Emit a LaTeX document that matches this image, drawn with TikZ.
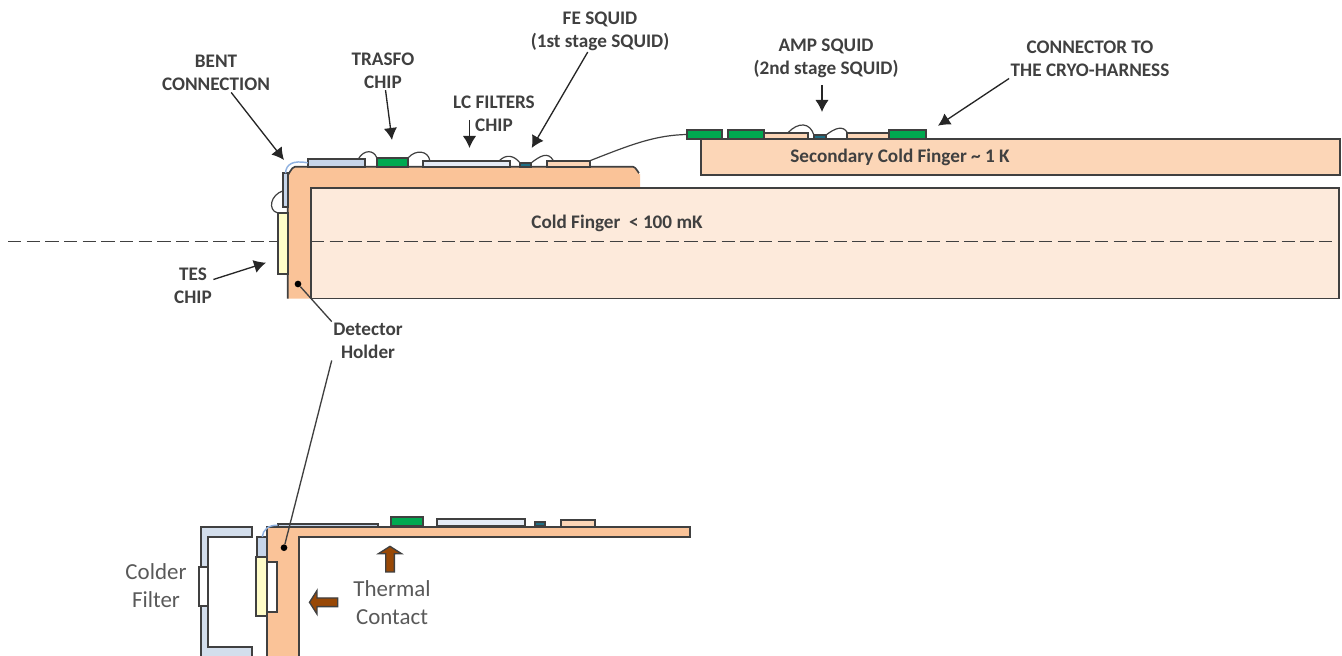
\documentclass[tikz,border=0pt]{standalone}
\usepackage{fontspec}
\setmainfont{Carlito}
\usepackage{xcolor}
\usepackage{tikz}
\usetikzlibrary{arrows.meta,shapes.arrows}
\definecolor{edge}{HTML}{404040}
\definecolor{holder}{HTML}{FAC398}
\definecolor{finger}{HTML}{FDEADB}
\definecolor{second}{HTML}{FCD6B7}
\definecolor{steel}{HTML}{C6D5EA}
\definecolor{pale}{HTML}{E4EBF6}
\definecolor{filterblue}{HTML}{D3DEEC}
\definecolor{chipgreen}{HTML}{00A950}
\definecolor{teal}{HTML}{1F6F85}
\definecolor{tes}{HTML}{FFFDC8}
\definecolor{brown}{HTML}{984806}
\definecolor{bentblue}{HTML}{8FB1E0}
\tikzset{
  chip/.style={draw=edge,line width=1.25pt,inner sep=0pt,outer sep=0pt},
  tag/.style={font=\fontsize{14.4}{17.3}\selectfont\bfseries,text=edge,align=center,inner sep=1pt},
  bigtag/.style={font=\fontsize{17.2}{21}\selectfont,text=black!65,align=center,inner sep=2pt},
  wire/.style={draw=edge,line width=0.9pt},
  bent/.style={draw=bentblue,line width=1.1pt},
  pointer/.style={->,draw=black!85,line width=1pt},
  flow/.style={single arrow,draw=edge,fill=brown,line width=1pt,inner sep=0pt,
    single arrow head extend=5.5pt,single arrow tip angle=115}
}
\newcommand{\chipnode}[6]{
  \node[chip,fill=#6,minimum width={(#4-#2)*0.75pt},minimum height={(#5-#3)*0.75pt}] (#1) at ({(#2+#4)/2},{(#3+#5)/2}) {};
}
\begin{document}
\begin{tikzpicture}[x=0.75pt,y=-0.75pt,>={Latex[length=9pt,width=10pt]}]
  \useasboundingbox (0,0) rectangle (1342,656);
  % upper assembly
  \fill[holder] (287.7,298.5) -- (287.7,174) to[out=-90,in=180] (295,166.7) -- (633,166.7) to[out=0,in=-90] (640,174) -- (640,188) -- (311,188) -- (311,298.5) -- cycle;
  \draw[draw=edge,line width=1.25pt] (287.7,298.5) -- (287.7,174) to[out=-90,in=180] (295,166.7) -- (633,166.7) to[out=0,in=-90] (639,172);
  \chipnode{coldfinger}{311}{188}{1339}{298.5}{finger}
  \chipnode{secondfinger}{700.7}{139}{1340}{174.7}{second}
  \chipnode{sidechip}{283.3}{173.3}{287.7}{207.3}{steel}
  \chipnode{teschip}{277.7}{212.7}{287.7}{274}{tes}
  \chipnode{bentchip}{307.7}{159}{365}{166.7}{steel}
  \chipnode{trasfo}{376.7}{157.7}{408.3}{166.7}{chipgreen}
  \chipnode{lcchip}{423}{160.7}{510}{166.7}{pale}
  \chipnode{fesquid}{520.3}{163.3}{530.7}{166.7}{teal}
  \chipnode{feboard}{546.7}{160.7}{590}{166.7}{second}
  \chipnode{padone}{687.3}{130}{722.3}{139}{chipgreen}
  \chipnode{padtwo}{728.3}{130}{764.3}{139}{chipgreen}
  \chipnode{ampleft}{764.3}{132.7}{808}{139}{second}
  \chipnode{ampsquid}{814}{135.3}{825.7}{139}{teal}
  \chipnode{ampright}{846.7}{132.7}{889.3}{139}{second}
  \chipnode{harness}{889.3}{130}{926}{139}{chipgreen}
  % bonding wires
  \draw[bent] (sidechip.north) .. controls (286,164) and (293,160) .. (bentchip.west);
  \draw[wire] (sidechip.south west |- 0,190.7) .. controls (270,195) and (268,210) .. ([xshift=-0.5pt]teschip.north west);
  \draw[wire] ([xshift=-5pt]bentchip.north east) .. controls (364,149) and (374,150) .. (trasfo.north west);
  \draw[wire] (trasfo.north east) .. controls (416,149) and (428,151) .. ([xshift=5pt]lcchip.north west |- 0,160);
  \draw[wire] ([xshift=-8pt]lcchip.north east) .. controls (506,154) and (514,155) .. (fesquid.north west);
  \draw[wire] (fesquid.north east) .. controls (540,156) and (548,151) .. ([xshift=5pt]feboard.north west);
  \draw[wire] (feboard.north east) .. controls (630,145) and (655,135) .. (padone.west);
  \draw[wire] ([xshift=-15pt]ampleft.north east) .. controls (798,122) and (810,122) .. (ampsquid.north west);
  \draw[wire] (ampsquid.north east) .. controls (835,128) and (843,125) .. ([xshift=0.5pt]ampright.north west);
  % axis
  \coordinate (axisleft) at (8,241.5);
  \coordinate (axisright) at (1336,241.5);
  \draw[edge,line width=1.3pt,dash pattern=on 10pt off 4pt] (axisleft) -- (axisleft -| teschip.west);
  \draw[edge,line width=1.3pt,dash pattern=on 10pt off 4pt] (axisleft -| coldfinger.west) -- (axisright);
  % labels
  \node[tag] (bentlabel) at (216,73) {BENT\\CONNECTION};
  \node[tag] (trasfolabel) at (383,70.7) {TRASFO\\CHIP};
  \node[tag] (lclabel) at (494,114) {LC FILTERS\\CHIP};
  \node[tag] (felabel) at (600,31) {FE SQUID\\(1st stage SQUID)};
  \node[tag] (amplabel) at (826,58.7) {AMP SQUID\\(2nd stage SQUID)};
  \node[tag] (harnesslabel) at (1090,59) {CONNECTOR TO\\THE CRYO-HARNESS};
  \node[tag] (secondlabel) at (900,157) {Secondary Cold Finger \char`~{} 1 K};
  \node[tag] (coldlabel) at (617,223) {Cold Finger\ \ < 100 mK};
  \node[tag] (teslabel) at (193,286) {TES\\CHIP};
  \node[tag] (holderlabel) at (368,341) {Detector\\Holder};
  % pointers
  \coordinate (benttip) at (284,160);
  \coordinate (trasfotip) at (392,140);
  \coordinate (lcstart) at (469.5,120);
  \coordinate (lctip) at (469.5,148);
  \coordinate (fetip) at (531.7,148);
  \coordinate (ampstart) at (822,85);
  \coordinate (amptip) at (822,112);
  \coordinate (harnesstip) at (938,125.7);
  \coordinate (testip) at (266,262.7);
  \draw[pointer] (bentlabel) -- (benttip);
  \draw[pointer] (trasfolabel) -- (trasfotip);
  \draw[pointer] (lcstart) -- (lctip);
  \draw[pointer] (felabel) -- (fetip);
  \draw[pointer] (ampstart) -- (amptip);
  \draw[pointer] (harnesslabel.south west) -- (harnesstip);
  \draw[pointer] (teslabel) -- (testip);
  % lower assembly
  \draw[draw=edge,fill=holder,line width=1.25pt] (267.3,656) -- (267.3,526.7) -- (690,526.7) -- (690,536.7) -- (299.3,536.7) -- (299.3,656);
  \draw[draw=edge,fill=filterblue,line width=1.25pt] (251.7,656) -- (251.7,646.7) -- (207.7,646.7) -- (207.7,536.7) -- (251.7,536.7) -- (251.7,526.7) -- (200.7,526.7) -- (200.7,656);
  \chipnode{filterslot}{199}{566.7}{207.7}{606}{white}
  \chipnode{lowblue}{257.3}{536.7}{267.3}{556.7}{steel}
  \chipnode{lowtes}{256}{556.7}{267.3}{616.3}{tes}
  \chipnode{lowslot}{267.3}{561.7}{277.3}{612.3}{white}
  \chipnode{lowbent}{277.7}{523.7}{377.7}{526.7}{steel}
  \chipnode{lowtrasfo}{391}{516.7}{422.7}{525.7}{chipgreen}
  \chipnode{lowlc}{437}{519.3}{525}{525.7}{pale}
  \chipnode{lowsquid}{534.7}{521.7}{545.3}{526}{teal}
  \chipnode{lowboard}{560.7}{520.3}{594.7}{526.7}{second}
  \draw[bent] (lowblue.north) .. controls (263,530) and (268,525) .. (lowbent.west);
  % holder dots and lines
  \node[circle,fill=black,minimum size=5pt,inner sep=0pt] (holderdot) at (298,284) {};
  \node[circle,fill=black,minimum size=5pt,inner sep=0pt] (lowdot) at (284,547.7) {};
  \draw[draw=edge,line width=1pt] (holderlabel.north west) -- (holderdot);
  \draw[draw=edge,line width=1pt] (holderlabel.south west) -- (lowdot);
  % thermal contact
  \node[flow,rotate=90,minimum height=19.2pt] (flowup) at (390,560.5) {\rule{0pt}{5.5pt}};
  \node[flow,rotate=180,minimum height=21.2pt] (flowleft) at (325,602.3) {\rule{0pt}{5.5pt}};
  \node[bigtag] (colderlabel) at (156,586) {Colder\\Filter};
  \node[bigtag] (thermallabel) at (392,603) {Thermal\\Contact};
\end{tikzpicture}
\end{document}
